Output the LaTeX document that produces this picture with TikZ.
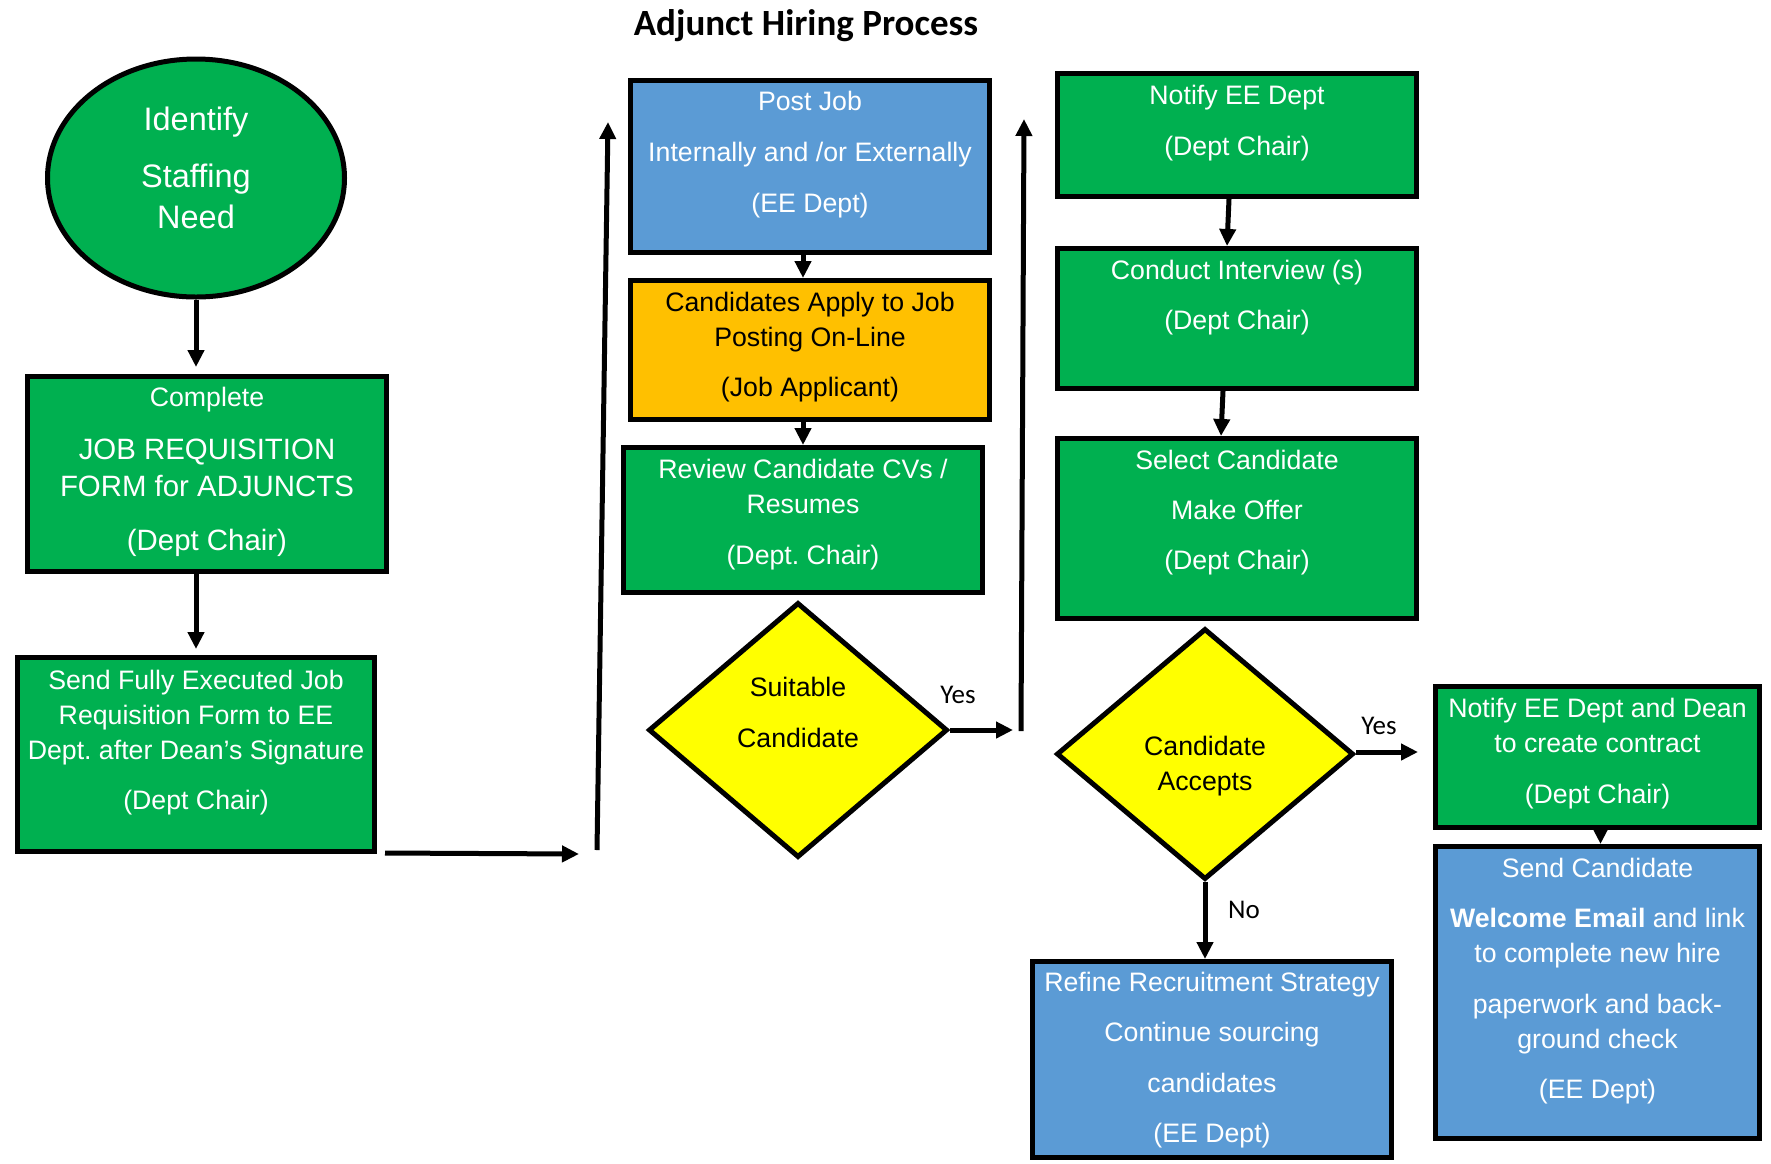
\documentclass[tikz,border=0pt]{standalone}
\usepackage{fontspec}
\setmainfont{Liberation Sans}
\newfontfamily\calibri{Carlito}
\usetikzlibrary{shapes.geometric}
\usetikzlibrary{arrows.meta}
\frenchspacing

\definecolor{stepgreen}{HTML}{00B050}
\definecolor{stepblue}{HTML}{5B9BD5}
\definecolor{steporange}{HTML}{FFC000}
\definecolor{stepyellow}{HTML}{FFFF00}

\newcommand{\boxtext}[4]{\parbox[c][#1pt][t]{#2pt}{\centering\vspace*{#3pt}#4\par}}

\tikzset{
  stepbox/.style={draw, rectangle, line width=5pt, inner sep=0pt, text=white, font=\fontsize{26.7}{35}\selectfont},
  choice/.style={draw, diamond, line width=5pt, inner sep=0pt, fill=stepyellow, font=\fontsize{26.7}{35}\selectfont},
  conn/.style={line width=5pt, -{Triangle[length=17pt,width=16pt]}},
  answer/.style={font=\calibri\fontsize{27}{30}\selectfont, anchor=base}
}

\begin{document}
\begin{tikzpicture}[x=1pt, y=-1pt]
        \useasboundingbox (0,0) rectangle (1771,1163);
        \node [font=\calibri\bfseries\fontsize{37}{44}\selectfont, anchor=base] (title) at (806,35) {Adjunct Hiring Process};

        \node [draw, ellipse, line width=5pt, inner sep=0pt, fill=stepgreen, text=white, minimum width=297pt, minimum height=238pt, font=\fontsize{32.5}{41}\selectfont] (need) at (196,178) {\boxtext{150}{180}{4}{Identify\\[16pt] Staffing\\ Need}};
        \node [stepbox, fill=stepgreen, font=\fontsize{29.4}{37}\selectfont] (complete) at (207,474) {\boxtext{195}{359}{10.5}{{\fontsize{26.7}{37}\selectfont Complete}\\[16pt] JOB REQUISITION\\ FORM for ADJUNCTS\\[17pt] (Dept Chair)}};
        \node [stepbox, fill=stepgreen] (sendform) at (196,754.5) {\boxtext{194}{357}{13}{Send Fully Executed Job\\ Requisition Form to EE\\ Dept. after Dean’s Signature\\[15pt] (Dept Chair)}};

        \node [stepbox, fill=stepblue] (post) at (810,166.5) {\boxtext{172}{359}{11}{Post Job\\[16pt] Internally and /or Externally\\[16pt] (EE Dept)}};
        \node [stepbox, fill=steporange, text=black] (apply) at (810,350) {\boxtext{139}{359}{12}{Candidates Apply to Job\\ Posting On-Line\\[15pt] (Job Applicant)}};
        \node [stepbox, fill=stepgreen] (review) at (803,520) {\boxtext{145}{359}{12}{Review Candidate CVs /\\ Resumes\\[16pt] (Dept. Chair)}};
        \node [choice, minimum width=299pt, minimum height=255pt] (suitable) at (798,730) {\boxtext{110}{125}{2.5}{Suitable\\[16pt] Candidate}};

        \node [stepbox, fill=stepgreen] (notifyee) at (1237,135) {\boxtext{123}{359}{12}{Notify EE Dept\\[16pt] (Dept Chair)}};
        \node [stepbox, fill=stepgreen] (interview) at (1237,318.5) {\boxtext{140}{359}{12}{Conduct Interview (s)\\[15pt] (Dept Chair)}};
        \node [stepbox, fill=stepgreen] (select) at (1237,528.5) {\boxtext{180}{359}{12}{Select Candidate\\[15pt] Make Offer\\[15pt] (Dept Chair)}};
        \node [choice, minimum width=297pt, minimum height=251pt] (accepts) at (1205,754) {\boxtext{110}{125}{37.5}{Candidate\\ Accepts}};
        \node [stepbox, fill=stepblue] (refine) at (1212,1059.5) {\boxtext{196}{359}{11}{Refine Recruitment Strategy\\[15pt] Continue sourcing\\[16pt] candidates\\[15pt] (EE Dept)}};

        \node [stepbox, fill=stepgreen] (notifydean) at (1597.5,757) {\boxtext{141}{324}{12}{Notify EE Dept and Dean\\ to create contract\\[16pt] (Dept Chair)}};
        \node [stepbox, fill=stepblue] (welcome) at (1597.5,992.5) {\boxtext{292}{324}{12}{Send Candidate\\[15pt] \textbf{Welcome Email} and link\\ to complete new hire\\[16pt] paperwork and back-\\ ground check\\[15pt] (EE Dept)}};

        \coordinate (formout) at (579,854);
        \coordinate (riseAlow) at (597,850);
        \coordinate (riseAtop) at (608,122);
        \coordinate (yesout) at (1013,730);
        \coordinate (riseBlow) at (1021,731);
        \coordinate (riseBtop) at (1024,119);
        \coordinate (dealout) at (1418,752);

        \node [answer] (yesA) at (958,703) {Yes};
        \node [answer] (yesB) at (1379,734) {Yes};
        \node [answer] (noA) at (1244,918) {No};

        \draw[conn, shorten >=7pt] (need.south) -- (need.south |- complete.north);
        \draw[conn, shorten >=6pt] (complete.south -| sendform.north) -- (sendform.north);
        \draw[conn] ([xshift=8pt, yshift=1pt]sendform.south east) -- (formout);
        \draw[conn] (riseAlow) -- (riseAtop);
        \draw[conn] (post.south -| review.north) -- (apply.north -| review.north);
        \draw[conn] (apply.south -| review.north) -- (review.north);
        \draw[conn] (suitable.east) -- (yesout);
        \draw[conn] (riseBlow) -- (riseBtop);
        \draw[conn] ([xshift=-8pt]notifyee.south) -- ([xshift=-10pt]interview.north);
        \draw[conn] ([xshift=-14pt]interview.south) -- ([xshift=-16pt]select.north);
        \draw[conn] ([yshift=2pt]accepts.east) -- (dealout);
        \draw[conn] (accepts.south) -- (accepts.south |- refine.north);
        \draw[conn] ([xshift=3pt]notifydean.south) -- ([xshift=3pt]welcome.north);
    \end{tikzpicture}
\end{document}
